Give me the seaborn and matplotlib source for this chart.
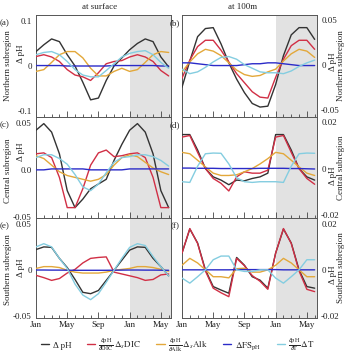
import numpy as np
import pandas as pd
import matplotlib
matplotlib.use("Agg")
import matplotlib.pyplot as plt
import seaborn as sns
from matplotlib.lines import Line2D

# ---------------- data ----------------
months = [0, 1, 2, 3, 4, 5, 6, 7, 8, 9, 10, 11, 12, 13, 14, 15, 16, 17]
tick_pos = [0, 4, 8, 12, 16]
tick_labels = ["Jan", "May", "Sep", "Jan", "May"]
components = ["dpH", "dic", "alk", "fs", "t"]

# (a) surface, northern
a_dpH = [0.032, 0.047, 0.060, 0.054, 0.025, 0.000, -0.036, -0.075, -0.071, -0.032, 0.000, 0.018, 0.036, 0.050, 0.060, 0.054, 0.020, -0.002]
a_dic = [0.021, 0.025, 0.020, 0.010, -0.008, -0.020, -0.024, -0.032, -0.015, 0.005, 0.010, 0.012, 0.020, 0.025, 0.020, 0.010, -0.010, -0.022]
a_alk = [-0.012, -0.008, 0.008, 0.025, 0.032, 0.032, 0.018, -0.005, -0.022, -0.022, -0.012, -0.005, -0.012, -0.008, 0.008, 0.025, 0.032, 0.030]
a_fs = [0.001, 0.001, 0.001, 0.001, 0.000, 0.000, 0.000, 0.000, 0.000, 0.000, 0.001, 0.001, 0.001, 0.001, 0.001, 0.001, 0.000, 0.000]
a_t = [0.025, 0.030, 0.032, 0.025, 0.010, -0.008, -0.020, -0.024, -0.024, -0.010, 0.005, 0.020, 0.028, 0.032, 0.034, 0.025, 0.008, -0.005]

# (b) 100 m, northern
b_dpH = [-0.025, 0.004, 0.031, 0.040, 0.041, 0.023, 0.002, -0.016, -0.031, -0.043, -0.047, -0.046, -0.022, 0.010, 0.033, 0.041, 0.041, 0.028]
b_dic = [-0.015, 0.005, 0.020, 0.027, 0.027, 0.016, 0.003, -0.010, -0.020, -0.030, -0.036, -0.037, -0.014, 0.006, 0.021, 0.027, 0.027, 0.017]
b_alk = [-0.008, 0.003, 0.012, 0.017, 0.015, 0.010, 0.002, -0.006, -0.011, -0.013, -0.012, -0.008, -0.005, 0.004, 0.012, 0.017, 0.015, 0.008]
b_fs = [0.002, 0.002, 0.001, 0.000, -0.001, -0.001, -0.001, -0.001, 0.000, 0.001, 0.001, 0.002, 0.002, 0.001, 0.000, -0.001, -0.001, -0.001]
b_t = [-0.005, -0.010, -0.008, -0.003, 0.003, 0.008, 0.009, 0.006, 0.000, -0.004, -0.008, -0.009, -0.009, -0.010, -0.007, -0.002, 0.002, 0.005]

# (c) surface, central
c_dpH = [0.042, 0.049, 0.040, 0.017, -0.022, -0.040, -0.031, -0.020, -0.015, -0.010, 0.010, 0.027, 0.042, 0.049, 0.040, 0.017, -0.022, -0.040]
c_dic = [0.017, 0.018, 0.013, -0.008, -0.040, -0.040, -0.020, 0.005, 0.018, 0.021, 0.014, 0.015, 0.017, 0.018, 0.013, -0.008, -0.040, -0.040]
c_alk = [0.015, 0.012, 0.005, -0.002, -0.006, -0.008, -0.010, -0.012, -0.010, -0.005, 0.005, 0.013, 0.016, 0.014, 0.008, 0.002, -0.002, -0.005]
c_fs = [0.000, 0.000, 0.001, 0.001, 0.001, 0.001, 0.001, 0.000, 0.000, 0.000, 0.000, 0.000, 0.001, 0.001, 0.001, 0.001, 0.001, 0.001]
c_t = [0.013, 0.016, 0.016, 0.012, 0.006, -0.005, -0.018, -0.022, -0.015, -0.003, 0.008, 0.013, 0.014, 0.016, 0.016, 0.014, 0.010, 0.004]

# (d) 100 m, central
d_dpH = [0.0147, 0.0147, 0.0080, 0.0000, -0.0036, -0.0050, -0.0070, -0.0050, -0.0053, -0.0043, -0.0036, -0.0020, 0.0147, 0.0147, 0.0080, 0.0000, -0.0036, -0.0050]
d_dic = [0.0136, 0.0143, 0.0070, 0.0000, -0.0043, -0.0064, -0.0097, -0.0036, -0.0014, -0.0020, -0.0020, -0.0007, 0.0136, 0.0143, 0.0070, 0.0000, -0.0043, -0.0068]
d_alk = [0.0070, 0.0064, 0.0036, 0.0007, -0.0020, -0.0030, -0.0030, -0.0027, -0.0014, 0.0000, 0.0020, 0.0043, 0.0070, 0.0064, 0.0036, 0.0007, -0.0020, -0.0030]
d_fs = [0.0002, 0.0002, 0.0001, 0.0001, 0.0001, 0.0000, 0.0000, 0.0000, 0.0000, 0.0000, 0.0001, 0.0001, 0.0001, 0.0001, 0.0000, 0.0000, -0.0001, -0.0002]
d_t = [-0.0057, -0.0060, 0.0010, 0.0064, 0.0067, 0.0066, 0.0020, -0.0040, -0.0057, -0.0060, -0.0057, -0.0057, -0.0057, -0.0060, 0.0010, 0.0064, 0.0067, 0.0066]

# (e) surface, southern
e_dpH = [0.0226, 0.0255, 0.0250, 0.0130, 0.0030, -0.0100, -0.0240, -0.0255, -0.0220, -0.0110, 0.0000, 0.0110, 0.0220, 0.0255, 0.0250, 0.0130, 0.0040, -0.0060]
e_dic = [-0.0055, -0.0080, -0.0110, -0.0090, -0.0030, 0.0010, 0.0080, 0.0130, 0.0140, 0.0146, -0.0020, -0.0040, -0.0060, -0.0080, -0.0110, -0.0100, -0.0050, -0.0040]
e_alk = [0.0020, 0.0040, 0.0040, 0.0030, 0.0000, -0.0020, -0.0030, -0.0030, -0.0030, -0.0020, 0.0000, 0.0010, 0.0020, 0.0040, 0.0040, 0.0030, 0.0010, -0.0010]
e_fs = [0.0003, 0.0003, 0.0002, 0.0002, 0.0001, 0.0000, 0.0000, 0.0000, 0.0000, 0.0000, 0.0001, 0.0002, 0.0003, 0.0003, 0.0002, 0.0002, 0.0001, 0.0000]
e_t = [0.0255, 0.0290, 0.0255, 0.0130, 0.0020, -0.0150, -0.0270, -0.0320, -0.0255, -0.0130, 0.0000, 0.0130, 0.0250, 0.0290, 0.0270, 0.0150, 0.0040, -0.0060]

# (f) 100 m, southern
f_dpH = [0.0073, 0.0178, 0.0117, 0.0000, -0.0073, -0.0088, -0.0102, 0.0054, 0.0020, -0.0030, -0.0045, -0.0080, 0.0073, 0.0178, 0.0117, 0.0000, -0.0073, -0.0080]
f_dic = [0.0073, 0.0180, 0.0115, -0.0005, -0.0080, -0.0100, -0.0117, 0.0050, 0.0018, -0.0025, -0.0050, -0.0085, 0.0073, 0.0180, 0.0115, -0.0005, -0.0085, -0.0095]
f_alk = [0.0020, 0.0050, 0.0030, 0.0000, -0.0030, -0.0030, -0.0035, 0.0005, 0.0007, -0.0010, -0.0010, 0.0000, 0.0020, 0.0050, 0.0030, 0.0000, -0.0030, -0.0030]
f_fs = [0.0000, 0.0000, 0.0000, 0.0000, 0.0000, 0.0000, 0.0000, 0.0001, 0.0001, 0.0001, 0.0001, 0.0001, 0.0001, 0.0000, 0.0000, 0.0000, 0.0000, 0.0000]
f_t = [-0.0036, -0.0058, -0.0030, 0.0000, 0.0044, 0.0060, 0.0060, 0.0000, -0.0007, -0.0007, 0.0000, 0.0000, -0.0036, -0.0058, -0.0030, 0.0000, 0.0044, 0.0044]

panel_data = {
    "a": [a_dpH, a_dic, a_alk, a_fs, a_t],
    "b": [b_dpH, b_dic, b_alk, b_fs, b_t],
    "c": [c_dpH, c_dic, c_alk, c_fs, c_t],
    "d": [d_dpH, d_dic, d_alk, d_fs, d_t],
    "e": [e_dpH, e_dic, e_alk, e_fs, e_t],
    "f": [f_dpH, f_dic, f_alk, f_fs, f_t],
}

# ---------------- style ----------------
sns.set_theme(style="ticks")
plt.rcParams["font.family"] = ["Liberation Serif", "DejaVu Serif"]
plt.rcParams["mathtext.fontset"] = "stix"
FS = 6.5

palette = {"dpH": "#333333", "dic": "#d12f45", "alk": "#e3a83a",
           "fs": "#2b2bc8", "t": "#84cde0"}
labels = ["Δ pH",
          r"$\frac{\partial \mathrm{pH}}{\partial \mathrm{DIC}}\,\Delta_{s}\mathrm{DIC}$",
          r"$\frac{\partial \mathrm{pH}}{\partial \mathrm{Alk}}\,\Delta_{s}\mathrm{Alk}$",
          r"$\Delta\mathrm{FS}_{\mathrm{pH}}$",
          r"$\frac{\partial \mathrm{pH}}{\partial \mathrm{T}}\,\Delta\mathrm{T}$"]

fig = plt.figure(figsize=(3.49, 3.55), dpi=100)
W, H = 349.0, 355.0
col_x = [36, 182]
ax_w = 135
rows = [(15, 117), (117, 218), (218, 318)]

layout = {
    "a": (0, 0, (-0.113, 0.113), [0.1, 0, -0.1], ["0.1", "0", "-0.1"], "Northern subregion", (0.62, 0.50)),
    "b": (1, 0, (-0.058, 0.055), [0.05, 0, -0.05], ["0.05", "0", "-0.05"], "Northern subregion", (0.54, 0.50)),
    "c": (0, 1, (-0.051, 0.056), [0.05, 0, -0.05], ["0.05", "0.0", "-0.05"], "Central subregion", (0.66, 0.47)),
    "d": (1, 1, (-0.0214, 0.0223), [0.02, 0, -0.02], ["0.02", "0", "-0.02"], "Central subregion", (0.42, 0.50)),
    "e": (0, 2, (-0.052, 0.057), [0.05, 0, -0.05], ["0.05", "0", "-0.05"], "Southern subregion", (0.50, 0.48)),
    "f": (1, 2, (-0.021, 0.0226), [0.02, 0, -0.02], ["0.02", "0", "-0.02"], "Southern subregion", (0.43, 0.50)),
}

for key, (ci, ri, ylim, yt, ytl, region, (dpy, regy)) in layout.items():
    top, bot = rows[ri]
    ax = fig.add_axes([col_x[ci] / W, 1 - bot / H, ax_w / W, (bot - top) / H])
    ax.axvspan(12, 17.3, color="#e2e2e2", lw=0, zorder=0)
    series = panel_data[key]
    df = pd.DataFrame({
        "month": months * len(components),
        "value": [v for s in series for v in s],
        "component": [c for c in components for _ in months],
    })
    sns.lineplot(data=df, x="month", y="value", hue="component",
                 hue_order=components, palette=palette, linewidth=1.0,
                 legend=False, ax=ax, zorder=3)
    ax.set_xlim(0, 17.3)
    ax.set_ylim(*ylim)
    ax.set_xlabel("")
    ax.set_ylabel("")
    ax.set_xticks(tick_pos)
    ax.set_xticks(months, minor=True)
    if ri == 2:
        ax.set_xticklabels(tick_labels, fontsize=FS)
    else:
        ax.set_xticklabels([])
    ax.tick_params(axis="x", which="major", direction="in", length=4, width=0.6, pad=2, colors="#444444", labelcolor="#222222")
    ax.tick_params(axis="x", which="minor", direction="in", length=2.5, width=0.6, colors="#444444")
    ax.set_yticks(yt)
    ax.set_yticklabels(ytl, fontsize=FS)
    ax.tick_params(axis="y", length=0, pad=3, labelcolor="#222222")
    if ci == 1:
        ax.yaxis.tick_right()
    for sp in ax.spines.values():
        sp.set_visible(True)
        sp.set_linewidth(0.7)
        sp.set_color("#555555")

    # labels
    if ci == 0:
        ax.text(-0.23, 0.92, "(" + key + ")", transform=ax.transAxes, fontsize=FS, ha="center", va="center")
        ax.text(-0.205, regy, region, transform=ax.transAxes, rotation=90, fontsize=FS, ha="center", va="center")
        ax.text(-0.11, dpy, "Δ pH", transform=ax.transAxes, rotation=90, fontsize=FS, ha="center", va="center")
    else:
        ax.text(-0.052, 0.92, "(" + key + ")", transform=ax.transAxes, fontsize=FS, ha="center", va="center")
        ax.text(1.18, regy, region, transform=ax.transAxes, rotation=90, fontsize=FS, ha="center", va="center")
        ax.text(1.115, dpy, "Δ pH", transform=ax.transAxes, rotation=90, fontsize=FS, ha="center", va="center")
    if ri == 0:
        title = "at surface" if ci == 0 else "at 100m"
        ax.text(0.474 if ci == 0 else 0.45, 1.078, title, transform=ax.transAxes, fontsize=FS, ha="center", va="center")

handles = [Line2D([], [], color=palette[c], lw=1.0) for c in components]
fig.legend(handles, labels, loc="center", bbox_to_anchor=(0.51, 1 - 345 / H), ncol=5,
           frameon=False, fontsize=FS, handlelength=0.9, handletextpad=0.4,
           columnspacing=1.7, borderpad=0)

fig.savefig("out.png", dpi=100)
